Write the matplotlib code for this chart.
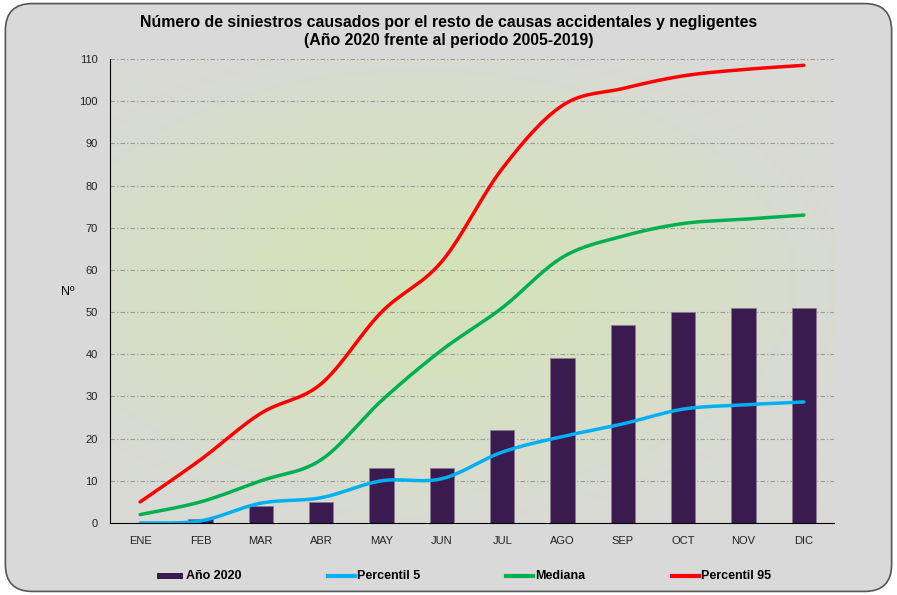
import numpy as np
import matplotlib
matplotlib.use("Agg")
import matplotlib.pyplot as plt
from matplotlib.patches import FancyBboxPatch, Rectangle
from matplotlib.lines import Line2D

plt.rcParams['font.family'] = ['Liberation Sans', 'DejaVu Sans']

months = ["ENE", "FEB", "MAR", "ABR", "MAY", "JUN", "JUL", "AGO", "SEP", "OCT", "NOV", "DIC"]
anio_2020 = [0, 1, 4, 5, 13, 13, 22, 39, 47, 50, 51, 51]
percentil_5 = [0, 0.5, 4.7, 6, 10, 10.5, 16.8, 20.5, 23.5, 27, 28, 28.7]
mediana = [2, 5, 10, 15, 29, 41, 51, 63, 68, 71, 72, 73]
percentil_95 = [5, 15, 26, 33, 50, 62, 84, 99, 103, 106, 107.5, 108.5]

series_names = ['Año 2020', 'Percentil 5', 'Mediana', 'Percentil 95']
series_colors = ['#3b1a4f', '#00b0f0', '#00b050', '#ff0000']


def smooth(x, y, n=30):
    x = np.asarray(x, float); y = np.asarray(y, float)
    P = np.column_stack([x, y])
    out = []
    for i in range(len(P) - 1):
        p0 = P[i - 1] if i > 0 else P[i]
        p1 = P[i]; p2 = P[i + 1]
        p3 = P[i + 2] if i + 2 < len(P) else P[i + 1]
        c1 = p1 + (p2 - p0) / 6.0
        c2 = p2 - (p3 - p1) / 6.0
        t = np.linspace(0, 1, n)[:, None]
        seg = ((1 - t) ** 3) * p1 + 3 * ((1 - t) ** 2) * t * c1 + 3 * (1 - t) * t ** 2 * c2 + t ** 3 * p2
        out.append(seg if i == 0 else seg[1:])
    s = np.vstack(out)
    return s[:, 0], s[:, 1]


W, H = 897, 595
fig = plt.figure(figsize=(W / 100, H / 100), dpi=100)
fig.patch.set_facecolor('white')
bg = FancyBboxPatch((0.006, 0.006), 0.988, 0.988, boxstyle="round,pad=0,rounding_size=0.03",
                    transform=fig.transFigure, facecolor='#d9d9d9', edgecolor='#555555',
                    linewidth=1.2, zorder=-10, mutation_aspect=W / H)
fig.patches.append(bg)

ax = fig.add_axes([110 / W, 1 - 523 / H, 724 / W, 464 / H])
ax.set_zorder(1)
ax.set_facecolor('none')

x = np.arange(len(months))
ax.set_xlim(-0.5, len(months) - 0.5)
ax.set_ylim(0, 110)

# elliptical gradient background
gx = np.linspace(0, 1, 300)
gy = np.linspace(0, 1, 200)
GX, GY = np.meshgrid(gx, gy)
r = np.sqrt(((GX - 0.43) / 0.62) ** 2 + ((GY - 0.52) / 0.55) ** 2)
r = np.clip(r, 0, 1) ** 1.3
c_in = np.array([0xd4, 0xe3, 0xb8]) / 255
c_out = np.array([0xd9, 0xda, 0xd5]) / 255
img = c_in[None, None, :] * (1 - r[..., None]) + c_out[None, None, :] * r[..., None]
ax.imshow(img, extent=[-0.5, len(months) - 0.5, 0, 110], aspect='auto', origin='lower', zorder=0)

ax.set_yticks(np.arange(0, 111, 10))
ax.yaxis.grid(True, color='#999999', linestyle=(0, (4, 2, 1, 2)), linewidth=0.8, zorder=1)
ax.set_axisbelow(True)

ax.bar(x, anio_2020, width=0.4, color=series_colors[0], edgecolor='#8a7a94', linewidth=0.6, zorder=2)

for vals, col in zip([percentil_5, mediana, percentil_95], series_colors[1:]):
    sx, sy = smooth(x, vals)
    ax.plot(sx, sy, color=col, lw=2.5, zorder=3, solid_capstyle='round')

ax.set_xticks(x)
ax.set_xticklabels(months)
for s in ['top', 'right']:
    ax.spines[s].set_visible(False)
ax.spines['left'].set_color('black')
ax.spines['bottom'].set_color('black')
ax.tick_params(axis='both', labelsize=8, colors='#222222', length=0)
ax.tick_params(axis='x', pad=9)
ax.tick_params(axis='y', pad=9)

fig.text(68 / W, 1 - 292 / H, 'Nº', fontsize=9, ha='center', va='center')

fig.text(0.5, 1 - 22 / H, 'Número de siniestros causados por el resto de causas accidentales y negligentes',
         fontsize=11.4, fontweight='bold', ha='center', va='center')
fig.text(0.5, 1 - 40 / H, '(Año 2020 frente al periodo 2005-2019)',
         fontsize=11.4, fontweight='bold', ha='center', va='center')

# legend drawn manually
leg_x = [157, 328, 506, 672]
ly = 576
for i, (name, col, lx) in enumerate(zip(series_names, series_colors, leg_x)):
    if i == 0:
        fig.patches.append(Rectangle((lx / W, 1 - 579 / H), 26 / W, 6 / H, transform=fig.transFigure,
                                     facecolor=col, edgecolor='none', zorder=5))
    else:
        fig.lines.append(Line2D([lx / W, (lx + 27) / W], [1 - ly / H, 1 - ly / H], transform=fig.transFigure,
                                color=col, lw=3, zorder=5))
    fig.text((lx + 29) / W, 1 - ly / H, name, fontsize=9, fontweight='bold', ha='left', va='center')

fig.savefig('out.png', dpi=100, facecolor=fig.get_facecolor())
